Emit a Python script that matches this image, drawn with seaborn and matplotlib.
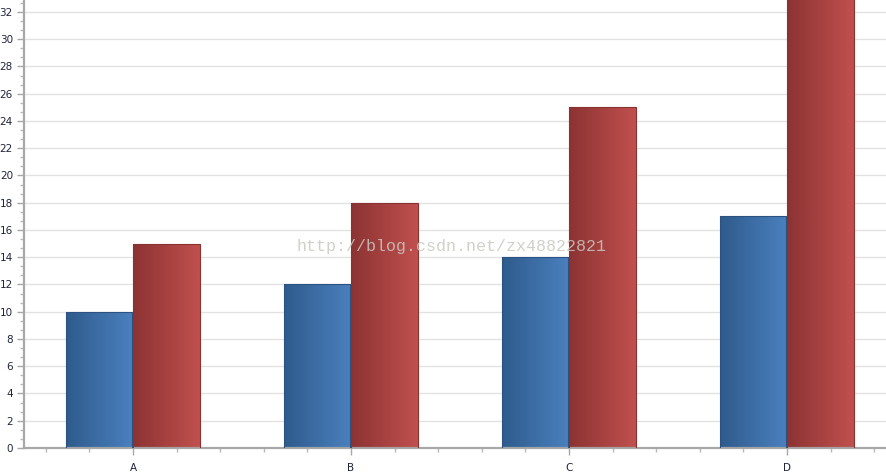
import numpy as np
import pandas as pd
import matplotlib
matplotlib.use("Agg")
import matplotlib.pyplot as plt
import seaborn as sns
from matplotlib.ticker import MultipleLocator, AutoMinorLocator
from matplotlib.colors import LinearSegmentedColormap

categories = ["A", "B", "C", "D"]
series_1 = [10, 12, 14, 17]
series_2 = [15, 18, 25, 33]
series_names = ["Series 1", "Series 2"]

# left-to-right gradient for each series (dark -> light)
gradients = {
    "Series 1": ("#2f5b8c", "#4a80be"),
    "Series 2": ("#8c3333", "#c0504e"),
}
edges = {"Series 1": "#2b5280", "Series 2": "#8a3131"}


def build_frame():
    rows = []
    for name, vals in zip(series_names, [series_1, series_2]):
        for cat, v in zip(categories, vals):
            rows.append({"cat": cat, "series": name, "value": v})
    return pd.DataFrame(rows)


def paint_gradients(ax, df):
    # seaborn draws hue levels in order, so patches follow series then category
    for patch, (_, row) in zip(ax.patches, df.iterrows()):
        x, y = patch.get_x(), patch.get_y()
        w, h = patch.get_width(), patch.get_height()
        c0, c1 = gradients[row["series"]]
        cmap = LinearSegmentedColormap.from_list("g", [c0, c1])
        grad = np.linspace(0, 1, 64).reshape(1, -1)
        im = ax.imshow(grad, cmap=cmap, aspect="auto",
                       extent=(x, x + w, y, y + h), zorder=2)
        im.set_clip_path(patch)
        patch.set_facecolor("none")
        patch.set_edgecolor(edges[row["series"]])
        patch.set_linewidth(0.8)
        patch.set_zorder(3)


def main():
    sns.set_style("white")
    df = build_frame()

    fig = plt.figure(figsize=(8.87, 4.72), dpi=100)
    ax = fig.add_axes([24 / 887, 24 / 472, 863 / 887, 448 / 472])

    sns.barplot(data=df, x="cat", y="value", hue="series", ax=ax,
                width=0.618, gap=0.015, legend=False, saturation=1)
    paint_gradients(ax, df)

    ax.set_xlim(-0.5, 3.459)
    ax.set_ylim(0, 32.88)
    ax.set_xlabel("")
    ax.set_ylabel("")

    ax.yaxis.set_major_locator(MultipleLocator(2))
    ax.yaxis.set_minor_locator(AutoMinorLocator(3))
    ax.xaxis.set_minor_locator(MultipleLocator(0.2))

    ax.grid(True, axis="y", which="major", color="#e2e2e2", linewidth=1.0)
    ax.set_axisbelow(True)

    for side in ["top", "right"]:
        ax.spines[side].set_visible(False)
    for side in ["left", "bottom"]:
        ax.spines[side].set_color("#a8a8a8")
        ax.spines[side].set_linewidth(1.6)

    # the white style switches tick marks off, turn them back on
    ax.tick_params(axis="both", which="both", bottom=True, left=True)
    ax.tick_params(axis="both", which="major", direction="out", length=5,
                   width=1, color="#a8a8a8", labelsize=7.5, labelcolor="#1e2440", pad=3)
    ax.tick_params(axis="both", which="minor", direction="out", length=3,
                   width=1, color="#b8b8b8")
    ax.tick_params(axis="x", which="major", pad=6)

    fig.text(452 / 887, 1 - 246 / 472, "http://blog.csdn.net/zx48822821",
             ha="center", va="center", fontsize=12, family="Liberation Mono",
             color="#c9c9c2", alpha=0.85, zorder=10)

    fig.savefig("out.png", dpi=100)
    plt.close(fig)


if __name__ == "__main__":
    main()
